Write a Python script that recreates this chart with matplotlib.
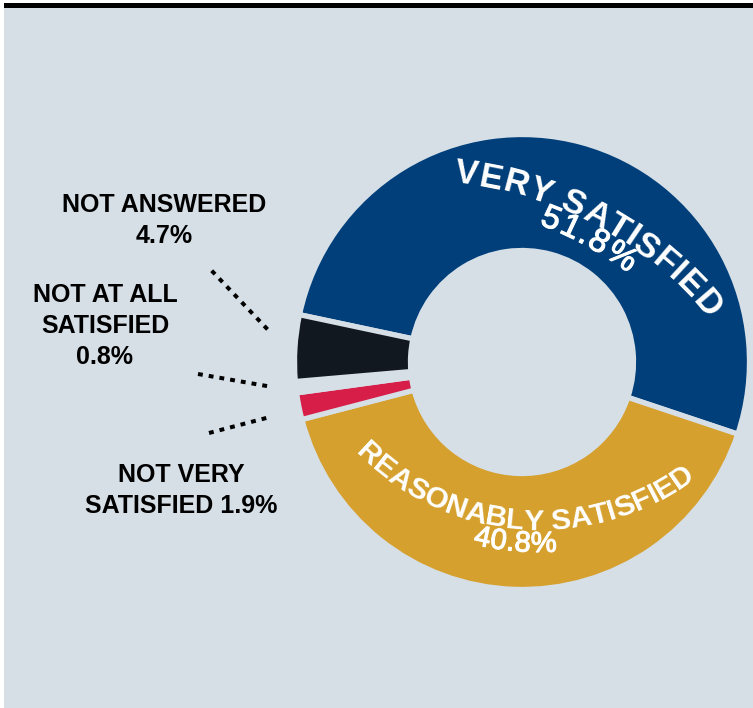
import numpy as np
import matplotlib
matplotlib.use("Agg")
import matplotlib.pyplot as plt
import matplotlib.patheffects as pe
from matplotlib.patches import Rectangle
from matplotlib.font_manager import FontProperties, findfont, get_font

# survey answers, clockwise from the upper left
labels = ["VERY SATISFIED", "REASONABLY SATISFIED", "NOT VERY SATISFIED",
          "NOT AT ALL SATISFIED", "NOT ANSWERED"]
shares = [51.8, 40.8, 1.9, 0.8, 4.7]

BG = "#D6DEE6"
colors = ["#003F7A", "#D5A02D", "#D71E48", BG, "#121820"]

W, H = 753, 708
FONT = "Liberation Sans"

fig = plt.figure(figsize=(W / 100, H / 100), dpi=100, facecolor="white")
ax = fig.add_axes([0, 0, 1, 1])


def py(y):
    # pixel row (from top) -> data y
    return H - y


ax.add_patch(Rectangle((4, 0), W - 4, py(8), facecolor=BG, edgecolor="none", zorder=0))
ax.add_patch(Rectangle((4, py(8)), W - 4, 5, facecolor="black", edgecolor="none", zorder=0))

cx, cy = 522, py(362)
ax.pie(shares, colors=colors, startangle=168, counterclock=False,
       radius=227.5, center=(cx, cy), frame=True,
       wedgeprops=dict(width=116, edgecolor=BG, linewidth=3.8))


def pct(label):
    return f"{shares[labels.index(label)]:.1f}%"


def arc_text(s, center, radius, a_first, a_last, size, weight, outward=True, stroke=0):
    """Lay out s one glyph at a time along a circular arc."""
    prop = FontProperties(family=FONT, size=size, weight=weight)
    font = get_font(findfont(prop))
    font.set_size(size, 72)
    adv = np.array([font.load_char(ord(c)).linearHoriAdvance / 65536 for c in s])
    mids = np.cumsum(adv) - adv / 2
    frac = (mids - mids[0]) / (mids[-1] - mids[0])
    effects = [pe.withStroke(linewidth=stroke, foreground="white")] if stroke else None
    for c, a in zip(s, a_first + frac * (a_last - a_first)):
        t = np.radians(a)
        x = center[0] + radius * np.cos(t)
        y = center[1] + radius * np.sin(t)
        rot = a - 90 if outward else a + 90
        ax.text(x, y, c, rotation=rot, rotation_mode="anchor", ha="center",
                va="baseline", color="white", fontproperties=prop, zorder=5,
                path_effects=effects)


# curved labels inside the ring
top_c = (419, py(551))
arc_text("VERY SATISFIED", top_c, 370, 82.8, 40.6, 25, "bold")
arc_text(pct("VERY SATISFIED"), top_c, 348, 68.3, 55.4, 24, "normal", stroke=0.8)

bot_c = (539, py(272))
arc_text("REASONABLY SATISFIED", bot_c, 258, -133, -55, 21.5, "bold", outward=False)
arc_text(pct("REASONABLY SATISFIED"), bot_c, 280, -102, -89, 21, "normal",
         outward=False, stroke=0.8)

# outside labels for the thin slices
side = [
    (164, [212, 243], ["NOT ANSWERED", pct("NOT ANSWERED")]),
    (105, [302, 333, 364], ["NOT AT ALL", "SATISFIED", pct("NOT AT ALL SATISFIED")]),
    (181, [482, 513], ["NOT VERY", "SATISFIED " + pct("NOT VERY SATISFIED")]),
]
for x, ys, lines in side:
    for y, line in zip(ys, lines):
        ax.text(x, py(y), line, ha="center", va="baseline", fontsize=18,
                fontweight="bold", family=FONT, color="black")

# dotted leader lines
leaders = [
    ((211.7, 270.7), (270.7, 332.7)),
    ((198, 374), (270.7, 386.7)),
    ((209, 433), (270, 417)),
]
for (x0, y0), (x1, y1) in leaders:
    ax.plot([x0, x1], [py(y0), py(y1)], color="black", lw=2.9,
            linestyle=(0, (1.2, 1.5)), dash_capstyle="butt")

ax.set_xlim(0, W)
ax.set_ylim(0, H)
ax.set_aspect("equal")
ax.axis("off")

fig.savefig("out.png", dpi=100, facecolor="white")
